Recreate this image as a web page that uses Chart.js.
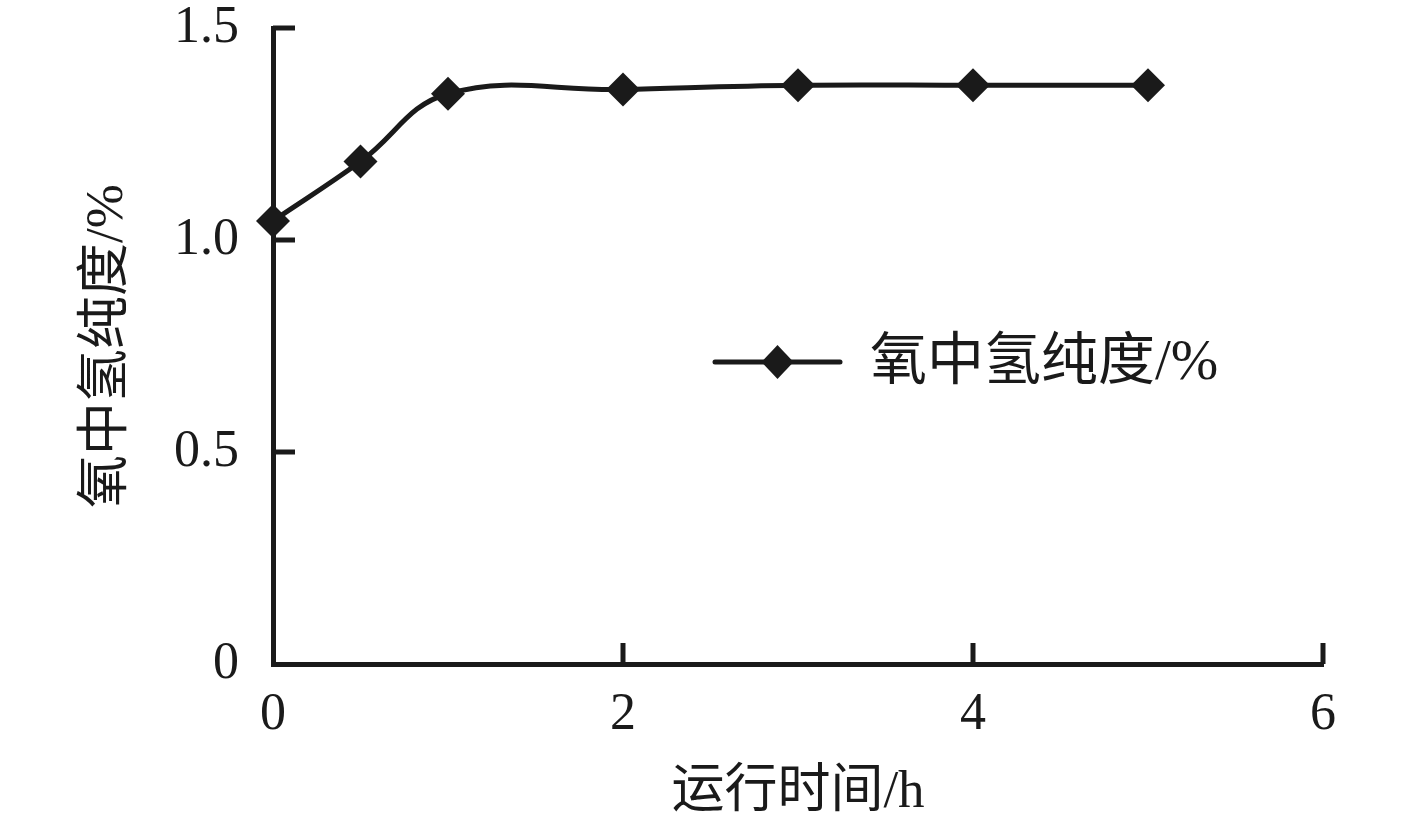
<!DOCTYPE html>
<html>
<head>
<meta charset="utf-8">
<script src="https://cdn.jsdelivr.net/npm/chart.js@4/dist/chart.umd.min.js"></script>
<style>
  html, body { margin: 0; padding: 0; background: #fff; }
  #wrap { width: 1417px; height: 827px; }
</style>
</head>
<body>
<div id="wrap"><canvas id="purityChart" width="1417" height="827"></canvas></div>
<script>
// 运行时间 (h) 与 氧中氢纯度 (%)
const runHours = [0, 0.5, 1, 2, 3, 4, 5];
const purity = [1.045, 1.185, 1.345, 1.355, 1.365, 1.365, 1.365];
const seriesLabel = '氧中氢纯度/%';
const xTitle = '运行时间/h';
const yTitle = '氧中氢纯度/%';
const xTicks = [0, 2, 4, 6];
const yTicks = [0, 0.5, 1.0, 1.5];

const ink = '#1a1a1a';
const fontFamily = "'Liberation Serif', 'Noto Sans CJK SC', serif";

// 内向刻度线
const innerTicks = {
    id: 'innerTicks',
    afterDraw(chart) {
        const ctx = chart.ctx;
        const xs = chart.scales.x;
        const ys = chart.scales.y;
        ctx.save();
        ctx.strokeStyle = ink;
        ctx.lineWidth = 5;
        xTicks.forEach(function(v) {
            if (v === xs.min) return;
            const px = xs.getPixelForValue(v);
            ctx.beginPath();
            ctx.moveTo(px, ys.bottom);
            ctx.lineTo(px, ys.bottom - 21);
            ctx.stroke();
        });
        yTicks.forEach(function(v) {
            if (v === ys.min) return;
            const py = ys.getPixelForValue(v);
            ctx.beginPath();
            ctx.moveTo(xs.left, py);
            ctx.lineTo(xs.left + 22, py);
            ctx.stroke();
        });
        ctx.restore();
    }
};

// 图内图例
const innerLegend = {
    id: 'innerLegend',
    afterDraw(chart) {
        const ctx = chart.ctx;
        const area = chart.chartArea;
        const x0 = area.left + 442;
        const x1 = area.left + 567;
        const y = area.top + 334;
        const cx = (x0 + x1) / 2;
        ctx.save();
        ctx.strokeStyle = ink;
        ctx.lineWidth = 5;
        ctx.lineCap = 'round';
        ctx.beginPath();
        ctx.moveTo(x0, y);
        ctx.lineTo(x1, y);
        ctx.stroke();
        ctx.fillStyle = ink;
        ctx.beginPath();
        ctx.moveTo(cx, y - 17);
        ctx.lineTo(cx + 16, y);
        ctx.lineTo(cx, y + 17);
        ctx.lineTo(cx - 16, y);
        ctx.closePath();
        ctx.fill();
        ctx.font = '57px ' + fontFamily;
        ctx.textBaseline = 'middle';
        ctx.textAlign = 'left';
        ctx.fillText(chart.data.datasets[0].label, x1 + 30, y + 2);
        ctx.restore();
    }
};

new Chart(document.getElementById('purityChart'), {
    type: 'line',
    data: {
        datasets: [{
            label: seriesLabel,
            data: runHours.map(function(h, i) { return {x: h, y: purity[i]}; }),
            borderColor: ink,
            backgroundColor: ink,
            borderWidth: 5,
            tension: 0.4,
            pointStyle: 'rectRot',
            pointRadius: 17,
            pointHoverRadius: 17,
            pointBackgroundColor: ink,
            pointBorderColor: ink,
            pointBorderWidth: 0,
            clip: false
        }]
    },
    options: {
        responsive: false,
        animation: false,
        layout: {
            padding: { top: 28, right: 94, left: 0, bottom: 0 }
        },
        plugins: {
            legend: { display: false },
            tooltip: { enabled: false }
        },
        scales: {
            x: {
                type: 'linear',
                min: 0,
                max: 6,
                afterBuildTicks: function(scale) {
                    scale.ticks = xTicks.map(function(v) { return {value: v}; });
                },
                afterFit: function(scale) { scale.height = 163; },
                grid: { display: false, drawTicks: false },
                border: { display: true, color: ink, width: 5 },
                ticks: {
                    color: ink,
                    padding: 20,
                    font: { family: fontFamily, size: 52, lineHeight: 1.2 },
                    maxRotation: 0
                },
                title: {
                    display: true,
                    text: xTitle,
                    color: ink,
                    font: { family: fontFamily, size: 53, lineHeight: 1.2 },
                    padding: { top: 0, bottom: 2 }
                }
            },
            y: {
                type: 'linear',
                min: 0,
                max: 1.5,
                afterBuildTicks: function(scale) {
                    scale.ticks = yTicks.map(function(v) { return {value: v}; });
                },
                afterFit: function(scale) {
                    scale.width = 273;
                    scale.paddingTop = 0;
                    scale.paddingBottom = 0;
                },
                grid: { display: false, drawTicks: false },
                border: { display: true, color: ink, width: 5 },
                ticks: {
                    color: ink,
                    padding: 34,
                    font: { family: fontFamily, size: 52, lineHeight: 1 },
                    callback: function(v) { return v === 0 ? '0' : v.toFixed(1); }
                },
                title: {
                    display: true,
                    text: yTitle,
                    color: ink,
                    font: { family: fontFamily, size: 53, lineHeight: 1.2 },
                    padding: { top: 76, bottom: 0 }
                }
            }
        }
    },
    plugins: [innerTicks, innerLegend]
});
</script>
</body>
</html>
